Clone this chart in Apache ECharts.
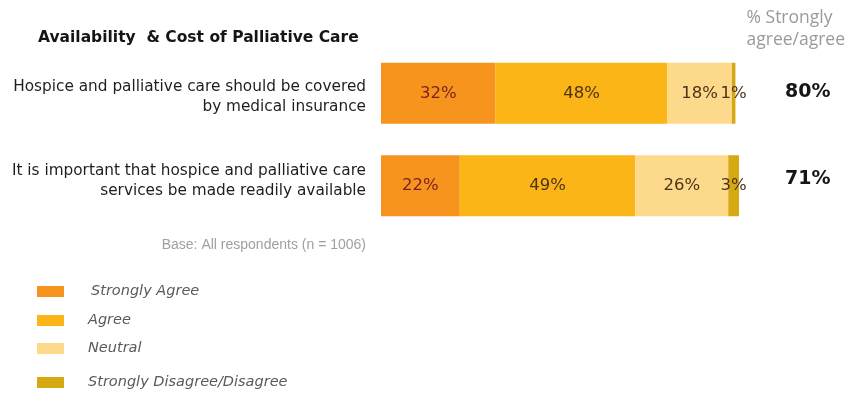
<!DOCTYPE html>
<html>
<head>
<meta charset="utf-8">
<script src="https://cdn.jsdelivr.net/npm/echarts@6/dist/echarts.min.js"></script>
<style>
  html, body { margin: 0; padding: 0; background: #ffffff; }
  #chart { width: 846px; height: 394px; }
</style>
</head>
<body>
<div id="chart"></div>
<script>
// Survey statements (top to bottom)
const statements = [
  'Hospice and palliative care should be covered\nby medical insurance',
  'It is important that hospice and palliative care\nservices be made readily available'
];
// Response shares (%)
const stronglyAgree = [32, 22];
const agree = [48, 49];
const neutral = [18, 26];
const disagree = [1, 3];

const seriesNames = ['Strongly Agree', 'Agree', 'Neutral', 'Strongly Disagree/Disagree'];
const seriesColors = ['#F7941E', '#FBB516', '#FDD98C', '#D6A812'];
const labelColors = ['#7a1e1e', '#4e3218', '#4e3218', '#4e3218'];

// Net agreement per statement
const netAgree = stronglyAgree.map((v, i) => v + agree[i]);

const FONT = 'DejaVu Sans, Liberation Sans, sans-serif';

const chart = echarts.init(document.getElementById('chart'), null, { renderer: 'canvas' });

const values = [stronglyAgree, agree, neutral, disagree];
const legendTops = [284, 313, 341, 375];

// Wrap a label's lines in rich styles, adding a thin spacer line above or
// below so the block sits slightly off the band centre.
function nudged(text, style, spacerTop, spacerBottom) {
  const body = text.split('\n').map(l => '{' + style + '|' + l + '}').join('\n');
  let out = body;
  if (spacerTop) out = '{' + spacerTop + '| }\n' + out;
  if (spacerBottom) out = out + '\n{' + spacerBottom + '| }';
  return out;
}

const option = {
  backgroundColor: '#ffffff',
  animation: false,
  title: {
    text: 'Availability  & Cost of Palliative Care',
    left: 33,
    top: 25,
    textStyle: { fontFamily: FONT, fontSize: 15.5, fontWeight: 'bold', color: '#151515' }
  },
  legend: seriesNames.map((n, i) => ({
    data: [n],
    left: 37,
    top: legendTops[i],
    orient: 'vertical',
    icon: 'rect',
    itemWidth: 27,
    itemHeight: 11,
    padding: 0,
    selectedMode: false,
    textStyle: {
      fontFamily: FONT,
      fontSize: 14.5,
      fontStyle: 'italic',
      color: '#5a5a5a',
      padding: [3, 0, 0, i === 0 ? 22 : 19]
    }
  })),
  grid: { left: 381, right: 107, top: 47, height: 185 },
  xAxis: { type: 'value', min: 0, max: 100, show: false },
  yAxis: [
    {
      type: 'category',
      data: statements,
      inverse: true,
      axisLine: { show: false },
      axisTick: { show: false },
      axisLabel: {
        margin: 15,
        align: 'right',
        formatter: (v, i) => i === 0 ? nudged(v, 't', 'sp8', null) : nudged(v, 't', null, 'sp10'),
        rich: {
          t: { fontFamily: FONT, fontSize: 15.3, lineHeight: 20, color: '#1e1e1e', align: 'right' },
          sp8: { fontSize: 1, lineHeight: 8 },
          sp10: { fontSize: 1, lineHeight: 10 }
        }
      }
    },
    {
      type: 'category',
      data: netAgree.map(v => v + '%'),
      inverse: true,
      position: 'right',
      axisLine: { show: false },
      axisTick: { show: false },
      axisLabel: {
        margin: 46,
        align: 'left',
        formatter: (v, i) => i === 0 ? nudged(v, 'n', null, 'sp2') : nudged(v, 'n', null, 'sp14'),
        rich: {
          n: { fontFamily: FONT, fontSize: 19, lineHeight: 24, fontWeight: 'bold', color: '#151515' },
          sp2: { fontSize: 1, lineHeight: 2 },
          sp14: { fontSize: 1, lineHeight: 14 }
        }
      }
    }
  ],
  graphic: [
    {
      type: 'text',
      right: 1,
      top: 7,
      style: {
        text: '% Strongly\nagree/agree',
        fontFamily: 'Open Sans, Liberation Sans, sans-serif',
        fontSize: 17.5,
        lineHeight: 22,
        fill: '#9a9a9a',
        align: 'right'
      }
    },
    {
      type: 'text',
      right: 480,
      top: 238,
      style: {
        text: 'Base: All respondents (n = 1006)',
        fontFamily: 'Liberation Sans, Arial, sans-serif',
        fontSize: 14,
        fill: '#a0a0a0',
        align: 'right'
      }
    }
  ],
  series: seriesNames.map((n, i) => ({
    name: n,
    type: 'bar',
    stack: 'total',
    barWidth: 61,
    data: values[i],
    itemStyle: { color: seriesColors[i] },
    label: {
      show: true,
      position: 'inside',
      formatter: '{c}%',
      fontFamily: FONT,
      fontSize: 16.5,
      color: labelColors[i]
    }
  }))
};

chart.setOption(option);
</script>
</body>
</html>
